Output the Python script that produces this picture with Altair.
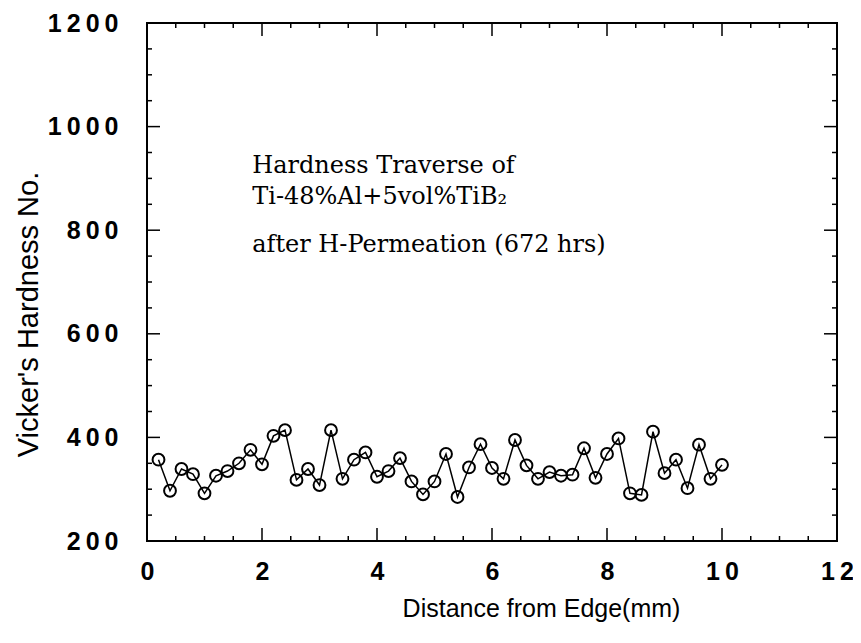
import altair as alt
import pandas as pd

# ---- data ----
distance_mm = [0.2, 0.4, 0.6, 0.8, 1.0, 1.2, 1.4, 1.6, 1.8, 2.0,
               2.2, 2.4, 2.6, 2.8, 3.0, 3.2, 3.4, 3.6, 3.8, 4.0,
               4.2, 4.4, 4.6, 4.8, 5.0, 5.2, 5.4, 5.6, 5.8, 6.0,
               6.2, 6.4, 6.6, 6.8, 7.0, 7.2, 7.4, 7.6, 7.8, 8.0,
               8.2, 8.4, 8.6, 8.8, 9.0, 9.2, 9.4, 9.6, 9.8, 10.0]
hardness = [357, 297, 339, 329, 292, 326, 335, 350, 376, 348,
            403, 414, 318, 339, 308, 414, 320, 357, 371, 324,
            335, 360, 315, 290, 315, 368, 285, 342, 387, 341,
            320, 395, 346, 320, 333, 326, 328, 379, 322, 368,
            398, 292, 289, 411, 331, 357, 302, 386, 320, 347]

x_major = [0, 2, 4, 6, 8, 10, 12]
x_minor = [0.5, 1, 1.5, 2.5, 3, 3.5, 4.5, 5, 5.5, 6.5, 7, 7.5,
           8.5, 9, 9.5, 10.5, 11, 11.5]
y_major = [200, 400, 600, 800, 1000, 1200]
y_minor = [250, 300, 350, 450, 500, 550, 650, 700, 750, 850, 900, 950,
           1050, 1100, 1150]

note_lines = ["Hardness Traverse of", "Ti-48%Al+5vol%TiB\u2082",
              "after H-Permeation (672 hrs)"]
note_x = [1.83, 1.83, 1.83]
note_y = [910, 850, 758]

x_title = "Distance from Edge(mm)"
y_title = "Vicker's Hardness No."

# ---- layout ----
W, H = 690, 518
MAJ, MIN = 13, 5
SANS = "Liberation Sans"
SERIF = "DejaVu Serif"

xs = alt.Scale(domain=[0, 12], nice=False, zero=False)
ys = alt.Scale(domain=[200, 1200], nice=False, zero=False)

spaced = "join(split(datum.label, ''), '\u2009')"

xaxis = alt.Axis(values=x_major, format="d", title=x_title, grid=False,
                 domain=False, ticks=False, tickSize=0,
                 labelFont=SANS, labelFontSize=25, labelFontWeight="bold",
                 labelColor="black", labelBaseline="alphabetic",
                 labelPadding=38, labelExpr=spaced, labelFlush=False,
                 labelOverlap=False,
                 titleFont=SANS, titleFontSize=25, titleFontWeight="normal",
                 titleColor="black", titleX=394, titleY=75,
                 titleBaseline="alphabetic", titleAlign="center")
yaxis = alt.Axis(values=y_major, format="d", title=y_title, grid=False,
                 domain=False, ticks=False, tickSize=0,
                 labelFont=SANS, labelFontSize=25, labelFontWeight="bold",
                 labelColor="black", labelPadding=29, labelExpr=spaced,
                 labelFlush=False, labelOverlap=False,
                 titleFont=SANS, titleFontSize=29, titleFontWeight="normal",
                 titleColor="black", titleX=-110, titleY=291,
                 titleBaseline="alphabetic", titleAlign="center", titleAngle=270)


def X(field):
    return alt.X(field, scale=xs, axis=xaxis, title=x_title)


def Y(field):
    return alt.Y(field, scale=ys, axis=yaxis, title=y_title)


df = pd.DataFrame({"d": distance_mm, "h": hardness})

line = alt.Chart(df).mark_line(color="black", strokeWidth=1.5).encode(
    x=X("d:Q"), y=Y("h:Q"))
pts = alt.Chart(df).mark_point(shape="circle", filled=False, size=140,
                               strokeWidth=2, color="black", opacity=1).encode(
    x=X("d:Q"), y=Y("h:Q"))


def xticks(vals, y0, y1):
    return alt.Chart(pd.DataFrame({"d": vals})).mark_rule(
        color="black", strokeWidth=1.5).encode(
        x=X("d:Q"), y=alt.value(y0), y2=alt.value(y1))


def yticks(vals, x0, x1):
    return alt.Chart(pd.DataFrame({"h": vals})).mark_rule(
        color="black", strokeWidth=1.5).encode(
        y=Y("h:Q"), x=alt.value(x0), x2=alt.value(x1))


ticks = [
    xticks(x_major, H, H - MAJ), xticks(x_minor, H, H - MIN),
    xticks(x_major, 0, MAJ), xticks(x_minor, 0, MIN),
    yticks(y_major, 0, MAJ), yticks(y_minor, 0, MIN),
    yticks(y_major, W, W - MAJ), yticks(y_minor, W, W - MIN),
]

notes = alt.Chart(pd.DataFrame({"t": note_lines, "d": note_x, "h": note_y})).mark_text(
    align="left", baseline="alphabetic", font=SERIF, fontSize=24, color="black"
).encode(x=X("d:Q"), y=Y("h:Q"), text="t:N")

chart = alt.layer(line, pts, notes, *ticks).properties(
    width=W, height=H,
    autosize=alt.AutoSizeParams(type="none"),
    padding={"left": 139, "top": 15, "right": 16, "bottom": 94},
    background="white",
).configure_view(stroke="black", strokeWidth=2)

chart.save("out.html", embed_options={"renderer": "svg", "actions": False})
